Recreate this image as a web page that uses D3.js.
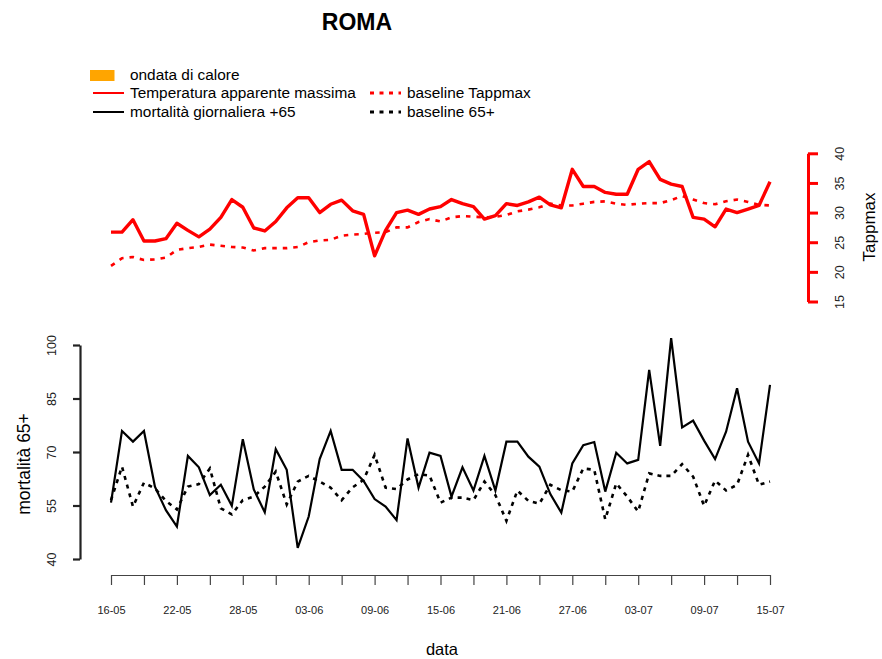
<!DOCTYPE html>
<html>
<head>
<meta charset="utf-8">
<script src="https://cdn.jsdelivr.net/npm/d3@7"></script>
<style>
  body { margin: 0; background: #fff; }
  svg { font-family: "Liberation Sans", Arial, sans-serif; }
</style>
</head>
<body>
<script>
const width = 882;
const height = 659;

// giorni 16-05 .. 15-07
const days = d3.timeDay.range(new Date(2015, 4, 16), new Date(2015, 6, 16));
const tickLabels = ["16-05", "22-05", "28-05", "03-06", "09-06", "15-06",
                    "21-06", "27-06", "03-07", "09-07", "15-07"];

const tappmax = [26.7, 26.7, 28.8, 25.2, 25.2, 25.6, 28.2, 27.0, 25.9, 27.2,
                 29.2, 32.2, 30.9, 27.4, 26.9, 28.5, 30.8, 32.5, 32.5, 30.0,
                 31.4, 32.1, 30.3, 29.7, 22.7, 27.0, 30.0, 30.4, 29.7, 30.6,
                 31.0, 32.2, 31.5, 31.0, 28.9, 29.5, 31.5, 31.2, 31.8, 32.6,
                 31.3, 30.8, 37.3, 34.4, 34.4, 33.4, 33.1, 33.1, 37.3, 38.6,
                 35.6, 34.8, 34.4, 29.2, 28.9, 27.6, 30.6, 30.0, 30.6, 31.2, 35.2];

const tappBase = [21.0, 22.3, 22.5, 22.0, 22.1, 22.4, 23.7, 24.0, 24.2, 24.6,
                  24.4, 24.2, 24.1, 23.6, 24.0, 24.0, 24.0, 24.2, 25.0, 25.3,
                  25.4, 26.1, 26.3, 26.4, 26.6, 26.7, 27.5, 27.5, 28.4, 28.9,
                  28.5, 29.2, 29.4, 29.3, 29.2, 29.3, 29.6, 30.2, 30.5, 30.9,
                  31.5, 31.2, 31.2, 31.5, 31.8, 31.9, 31.5, 31.3, 31.5, 31.6,
                  31.6, 32.1, 32.8, 32.2, 31.6, 31.4, 31.9, 32.2, 31.8, 31.3, 31.2];

const mort = [55.8, 75.9, 72.9, 75.9, 60.3, 53.7, 49.1, 68.9, 65.7, 57.9,
              60.8, 54.9, 73.6, 59.5, 53.1, 70.8, 65.0, 43.1, 51.9, 68.0,
              75.9, 65.0, 65.0, 61.9, 56.8, 54.7, 50.9, 73.8, 60.0, 69.8,
              68.9, 57.5, 65.7, 59.2, 68.9, 59.2, 72.9, 72.9, 68.7, 65.9,
              58.2, 53.0, 66.8, 71.9, 72.8, 58.9, 69.8, 66.8, 67.8, 93.0,
              71.7, 101.9, 76.9, 78.8, 73.2, 68.0, 75.7, 87.9, 72.9, 66.8, 88.8];

const mortBase = [56.5, 65.9, 54.7, 61.4, 59.8, 56.3, 53.9, 60.3, 61.0, 65.4,
                  54.2, 52.5, 56.5, 57.5, 60.3, 64.5, 55.3, 61.7, 63.3, 61.7,
                  60.0, 56.5, 60.1, 62.2, 69.2, 60.0, 59.6, 62.3, 63.8, 63.4,
                  55.8, 57.2, 57.2, 56.5, 61.7, 57.9, 50.7, 59.2, 56.3, 55.5,
                  60.8, 59.3, 58.9, 65.4, 65.0, 51.1, 61.2, 57.5, 53.3, 64.0,
                  63.3, 63.3, 66.6, 63.1, 54.9, 62.0, 59.2, 60.8, 69.2, 60.8, 61.7];

const tappTicks = [15, 20, 25, 30, 35, 40];
const mortTicks = [40, 55, 70, 85, 100];

const svg = d3.select("body")
    .append("svg")
    .attr("width", width)
    .attr("height", height);

const x = d3.scaleTime()
    .domain([days[0], days[days.length - 1]])
    .range([111, 770]);
const yTop = d3.scaleLinear()
    .domain([15, 40])
    .range([301.5, 153.3]);
const yBot = d3.scaleLinear()
    .domain([40, 100])
    .range([559, 345]);

// titolo
svg.append("text")
    .attr("x", 357)
    .attr("y", 30)
    .attr("text-anchor", "middle")
    .style("font-size", "23px")
    .style("font-weight", "bold")
    .text("ROMA");

// legenda
const legend = svg.append("g").style("font-size", "15.4px");
legend.append("rect")
    .attr("x", 90).attr("y", 70)
    .attr("width", 24.5).attr("height", 11)
    .attr("fill", "orange");
const legendRows = [
    {label: "ondata di calore", x: 130, y: 75},
    {label: "Temperatura apparente massima", x: 130, y: 93, color: "red", width: 2, dash: null, lx: 93},
    {label: "mortalità giornaliera +65", x: 130, y: 112, color: "black", width: 2, dash: null, lx: 93},
    {label: "baseline Tappmax", x: 407, y: 93, color: "red", width: 2.8, dash: "4,5.5", lx: 370},
    {label: "baseline 65+", x: 407, y: 112, color: "black", width: 2.8, dash: "4,5.5", lx: 370}
];
legendRows.forEach(r => {
    if (r.color) {
        legend.append("line")
            .attr("x1", r.lx).attr("x2", r.lx + 31)
            .attr("y1", r.y).attr("y2", r.y)
            .attr("stroke", r.color)
            .attr("stroke-width", r.width)
            .attr("stroke-dasharray", r.dash);
    }
    legend.append("text")
        .attr("x", r.x).attr("y", r.y)
        .attr("dy", "0.35em")
        .text(r.label);
});

const line = (scale) => d3.line()
    .x((d, i) => x(days[i]))
    .y(d => scale(d));

// pannello superiore: temperatura
svg.append("path")
    .datum(tappBase)
    .attr("fill", "none")
    .attr("stroke", "red")
    .attr("stroke-width", 2.6)
    .attr("stroke-dasharray", "4.5,6")
    .attr("d", line(yTop));

svg.append("path")
    .datum(tappmax)
    .attr("fill", "none")
    .attr("stroke", "red")
    .attr("stroke-width", 3.4)
    .attr("stroke-linejoin", "round")
    .attr("d", line(yTop));

const rightAxis = svg.append("g")
    .attr("transform", "translate(808,0)")
    .call(d3.axisRight(yTop).tickValues(tappTicks).tickSize(10).tickSizeOuter(0));
rightAxis.select(".domain").attr("stroke", "red").attr("stroke-width", 3);
rightAxis.selectAll(".tick line").attr("stroke", "red").attr("stroke-width", 3);
rightAxis.selectAll(".tick text")
    .attr("x", 0).attr("y", 32).attr("dy", "0.35em")
    .attr("transform", "rotate(-90)")
    .attr("text-anchor", "middle")
    .attr("fill", "#222")
    .style("font-size", "12.5px")
    .style("font-family", "Liberation Sans, Arial, sans-serif");

svg.append("text")
    .attr("transform", "translate(875,227) rotate(-90)")
    .attr("text-anchor", "middle")
    .style("font-size", "17px")
    .text("Tappmax");

// pannello inferiore: mortalità
svg.append("path")
    .datum(mortBase)
    .attr("fill", "none")
    .attr("stroke", "black")
    .attr("stroke-width", 2.6)
    .attr("stroke-dasharray", "4,5")
    .attr("d", line(yBot));

svg.append("path")
    .datum(mort)
    .attr("fill", "none")
    .attr("stroke", "black")
    .attr("stroke-width", 2.2)
    .attr("d", line(yBot));

const leftAxis = svg.append("g")
    .attr("transform", "translate(80,0)")
    .call(d3.axisLeft(yBot).tickValues(mortTicks).tickSize(7).tickSizeOuter(0));
leftAxis.select(".domain").attr("stroke", "#222").attr("stroke-width", 2.2);
leftAxis.selectAll(".tick line").attr("stroke", "#222").attr("stroke-width", 2.2);
leftAxis.selectAll(".tick text")
    .attr("x", 0).attr("y", -28).attr("dy", "0.35em")
    .attr("transform", "rotate(-90)")
    .attr("text-anchor", "middle")
    .attr("fill", "#222")
    .style("font-size", "12.5px")
    .style("font-family", "Liberation Sans, Arial, sans-serif");

svg.append("text")
    .attr("transform", "translate(30,464) rotate(-90)")
    .attr("text-anchor", "middle")
    .style("font-size", "17.5px")
    .text("mortalità 65+");

// asse x
const xTicks = days.filter((d, i) => i % 3 === 0);
const bottomAxis = svg.append("g")
    .attr("transform", "translate(0,575)")
    .call(d3.axisBottom(x)
        .tickValues(xTicks)
        .tickSize(10)
        .tickSizeOuter(0)
        .tickFormat((d, i) => i % 2 === 0 ? tickLabels[i / 2] : ""));
bottomAxis.select(".domain").attr("stroke", "#444").attr("stroke-width", 1.2);
bottomAxis.selectAll(".tick line").attr("stroke", "#444").attr("stroke-width", 1.2);
bottomAxis.selectAll(".tick text")
    .attr("y", 39).attr("dy", 0)
    .attr("fill", "#222")
    .style("font-size", "11px")
    .style("font-family", "Liberation Sans, Arial, sans-serif");

svg.append("text")
    .attr("x", 442)
    .attr("y", 655)
    .attr("text-anchor", "middle")
    .style("font-size", "16.5px")
    .text("data");
</script>
</body>
</html>
